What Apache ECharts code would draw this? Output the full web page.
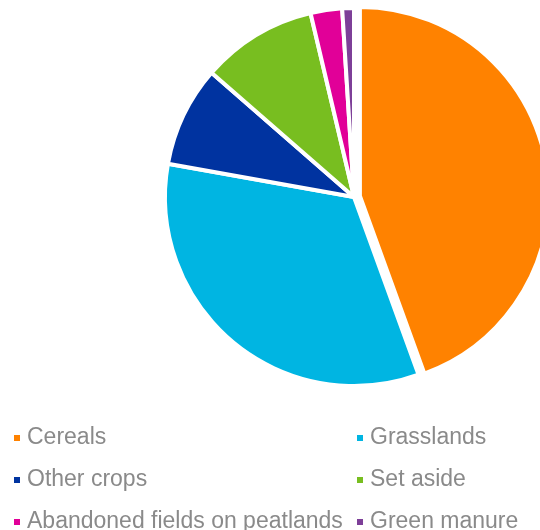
<!DOCTYPE html>
<html>
<head>
<meta charset="utf-8">
<script src="https://cdn.jsdelivr.net/npm/echarts@6/dist/echarts.min.js"></script>
<style>
  html, body { margin: 0; padding: 0; background: #fff; }
  #chart { width: 540px; height: 530px; }
</style>
</head>
<body>
<div id="chart"></div>
<script>
// land use shares, clockwise from 12 o'clock
const categories = ["Cereals", "Grasslands", "Other crops", "Set aside", "Abandoned fields on peatlands", "Green manure"];
const shares = [44.5, 33.4, 8.6, 9.9, 2.7, 1.0];
const colors = ["#ff8200", "#00b5e2", "#0033a0", "#78be20", "#e10098", "#7d3f98"];

const chart = echarts.init(document.getElementById("chart"));

// legend is a 2 x 3 grid, one legend per cell
const legends = categories.map((name, i) => ({
  data: [name],
  left: i % 2 === 0 ? 12 : 355,
  top: 425 + Math.floor(i / 2) * 42,
  padding: 0,
  icon: "rect",
  itemWidth: 8,
  itemHeight: 8,
  selectedMode: false,
  textStyle: {
    color: "#8a8a8a",
    fontFamily: "Liberation Sans, Arial, sans-serif",
    fontSize: 23,
    lineHeight: 26,
    padding: [0, 0, 0, 1]
  }
}));

chart.setOption({
  animation: false,
  color: colors,
  legend: legends,
  series: [
    {
      type: "pie",
      center: [354, 197],
      radius: 189,
      startAngle: 90,
      clockwise: true,
      selectedMode: "single",
      selectedOffset: 6,
      label: { show: false },
      labelLine: { show: false },
      itemStyle: { borderColor: "#fff", borderWidth: 4 },
      select: { itemStyle: { borderColor: "#fff", borderWidth: 4 } },
      emphasis: { disabled: true },
      data: categories.map((name, i) => ({
        name: name,
        value: shares[i],
        selected: i === 0
      }))
    }
  ]
});
</script>
</body>
</html>
